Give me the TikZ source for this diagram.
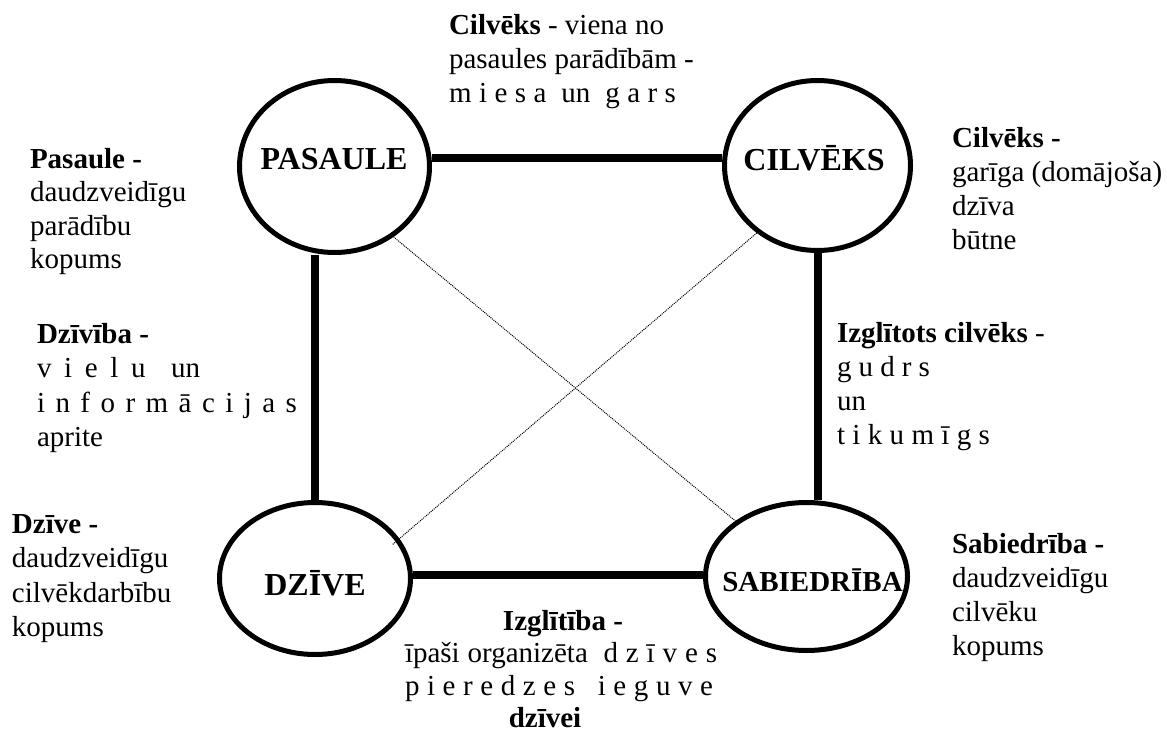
\documentclass[tikz,border=0pt]{standalone}
\usepackage{fontspec}
\setmainfont{Liberation Serif}
\usetikzlibrary{shapes.geometric,calc}
\begin{document}
\begin{tikzpicture}[x=1pt,y=-1pt,
  ell/.style={draw, ellipse, line width=5pt, inner sep=0pt},
  conn/.style={line width=8pt},
  dotline/.style={densely dotted, line width=1pt},
  txt/.style={anchor=base west, inner sep=0pt, outer sep=0pt, font=\fontsize{29}{34}\selectfont},
  lbl/.style={inner sep=0pt, text height=21pt, text depth=0pt, font=\fontsize{32}{38}\selectfont\bfseries},
  lbls/.style={inner sep=0pt, text height=19pt, text depth=0pt, font=\fontsize{29}{34}\selectfont\bfseries}]

\path[use as bounding box] (0,0) rectangle (1167,733);

% ellipses
\node[ell, minimum width=190pt, minimum height=172pt] (p) at (334.5,166.5) {};
\node[ell, minimum width=186pt, minimum height=170pt] (c) at (817.5,165.5) {};
\node[ell, minimum width=191pt, minimum height=152pt] (dz) at (315,578.5) {};
\node[ell, minimum width=202pt, minimum height=148pt] (s) at (806.5,576.5) {};

\node[lbl] (pl) at (334,159) {PASAULE};
\node[lbl] (cl) at (814,160) {CILVĒKS};
\node[lbl] (dl) at (315,585) {DZĪVE};
\node[lbls] (sl) at (812.5,582) {SABIEDRĪBA};

% connectors
\coordinate (tl) at (0,158);
\coordinate (bl) at (0,575);
\draw[conn] (p.east |- tl) -- (c.west |- tl);
\draw[conn] (p.south -| dz.north) -- (dz.north);
\draw[conn] (c.south) -- (c.south |- s.north);
\draw[conn] (dz.east |- bl) -- (s.west |- bl);

\draw[dotline] (p.-50.7) -- (s.142.5);
\draw[dotline] (c.228.3) -- ($(dz.center)+(77,-33.5)$);

% top text
\node[txt] (t1) at (449,35) {\textbf{Cilvēks} - viena no};
\node[txt] (t2) at (449,69) {pasaules parādībām -};
\node[txt] (t3) at (449,103) {\makebox[227pt][s]{m i e s a\ \ un\ \ g a r s}};

% Pasaule
\node[txt] (pa1) at (30,168) {\textbf{Pasaule -}};
\node[txt] (pa2) at (30,201.5) {daudzveidīgu};
\node[txt] (pa3) at (30,235) {parādību};
\node[txt] (pa4) at (30,268.5) {kopums};

% Cilveks right
\node[txt] (ci1) at (952,147) {\textbf{Cilvēks -}};
\node[txt] (ci2) at (952,181) {garīga (domājoša)};
\node[txt] (ci3) at (952,215) {dzīva};
\node[txt] (ci4) at (952,249) {būtne};

% Dziviba
\node[txt] (dv1) at (37,343) {\textbf{Dzīvība -}};
\node[txt] (dv2) at (37,377.5) {\makebox[163pt][s]{v i e l u\ \ un}};
\node[txt] (dv3) at (37,412) {\makebox[260pt][s]{i n f o r m ā c i j a s}};
\node[txt] (dv4) at (37,446) {aprite};

% Izglitots cilveks
\node[txt] (iz1) at (837,342) {\textbf{Izglītots cilvēks} -};
\node[txt] (iz2) at (837,376) {\makebox[93pt][s]{g u d r s}};
\node[txt] (iz3) at (837,410) {un};
\node[txt] (iz4) at (837,444) {\makebox[153pt][s]{t i k u m ī g s}};

% Dzive
\node[txt] (de1) at (12,533) {\textbf{Dzīve -}};
\node[txt] (de2) at (12,567.5) {daudzveidīgu};
\node[txt] (de3) at (12,602) {cilvēkdarbību};
\node[txt] (de4) at (12,636) {kopums};

% Sabiedriba
\node[txt] (sa1) at (952,553) {\textbf{Sabiedrība -}};
\node[txt] (sa2) at (952,587) {daudzveidīgu};
\node[txt] (sa3) at (952,621) {cilvēku};
\node[txt] (sa4) at (952,655) {kopums};

% Izglitiba
\node[txt, anchor=base] (ig1) at (563,630) {\textbf{Izglītība -}};
\node[txt] (ig2) at (405,662) {\makebox[312pt][s]{īpaši organizēta\ \ d z ī v e s}};
\node[txt] (ig3) at (405,695) {\makebox[308pt][s]{p i e r e d z e s\ \ \ i e g u v e}};
\node[txt, anchor=base] (ig4) at (545,727) {\textbf{dzīvei}};
\end{tikzpicture}
\end{document}
